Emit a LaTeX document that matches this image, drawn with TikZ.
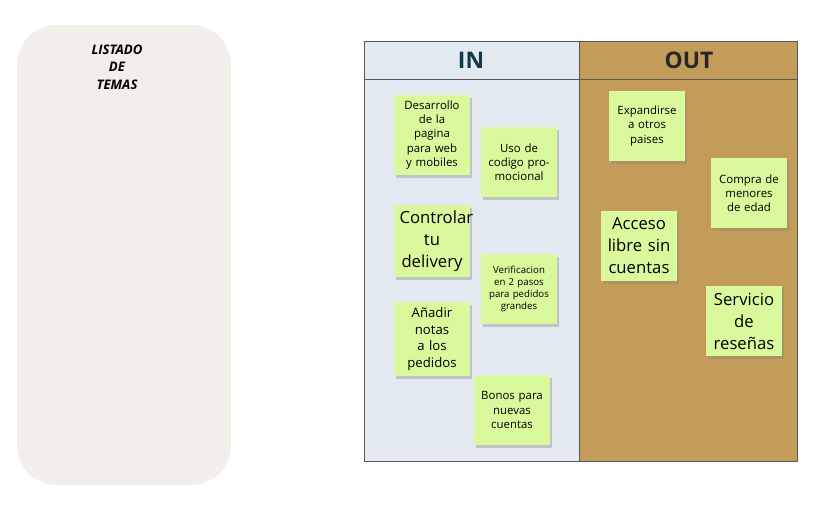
\documentclass[tikz,border=0pt]{standalone}
\usepackage{fontspec}
\setmainfont{Open Sans}
\usetikzlibrary{positioning,shadows}
\definecolor{panelgray}{HTML}{F2EEEA}
\definecolor{inblue}{HTML}{E3E9F1}
\definecolor{outbrown}{HTML}{C49C5A}
\definecolor{stickygreen}{HTML}{DAF99C}
\definecolor{headink}{HTML}{0F3A4A}
\tikzset{
  sticky/.style={fill=stickygreen,minimum width=1.4cm,minimum height=1.4cm,
    text width=1.3cm,align=center,font=\fontsize{6.5}{8}\selectfont,
    drop shadow={shadow xshift=0.04cm,shadow yshift=-0.06cm,opacity=0.35}},
  bigsticky/.style={sticky,font=\fontsize{9.5}{12.5}\selectfont},
  tinysticky/.style={sticky,font=\fontsize{5.5}{7}\selectfont},
  header/.style={font=\bfseries\fontsize{13}{15}\selectfont}
}
\begin{document}
\begin{tikzpicture}[x=0.02cm,y=-0.02cm]
  \useasboundingbox (0,0) rectangle (820,509);

  % left panel
  \fill[panelgray,rounded corners=0.8cm] (17,25) rectangle (231,485);
  \node (title) at (117,67) [align=center,font=\bfseries\itshape\fontsize{7.5}{10}\selectfont]
    {LISTADO\\DE\\TEMAS};

  % board
  \fill[inblue] (364,41) rectangle (579,461);
  \fill[outbrown] (579,41) rectangle (797,461);
  \draw[gray!70!black,line width=0.5pt] (364,41) rectangle (797,461);
  \draw[gray!70!black,line width=0.5pt] (364,79) -- (797,79);
  \draw[gray!70!black,line width=0.5pt] (579,41) -- (579,461);
  \node (in)  at (471,60) [header,text=headink] {IN};
  \node (out) at (689,60) [header,text=black!85] {OUT};

  % IN notes
  \node (web)    at (432,135) [sticky] {Desarrollo de la pagina para web y mobiles};
  \node (codigo) at (519,162) [sticky] {Uso de codigo promocional};
  \node (deliv)  at (432,241) [bigsticky] {Controlar tu delivery};
  \node (verif)  at (519,289) [tinysticky] {Verificacion en 2 pasos para pedidos grandes};
  \node (notas)  at (432,339) [sticky,font=\fontsize{7.5}{9.5}\selectfont] {Añadir notas a los pedidos};
  \node (bonos)  at (512,410) [sticky] {Bonos para nuevas cuentas};

  % OUT notes
  \node (expand) at (647,126) [sticky] {Expandirse a otros paises};
  \node (menor)  at (749,193) [sticky] {Compra de menores de edad};
  \node (acceso) at (639,246) [bigsticky] {Acceso libre sin cuentas};
  \node (resena) at (744,321) [bigsticky] {Servicio de reseñas};

\end{tikzpicture}
\end{document}
